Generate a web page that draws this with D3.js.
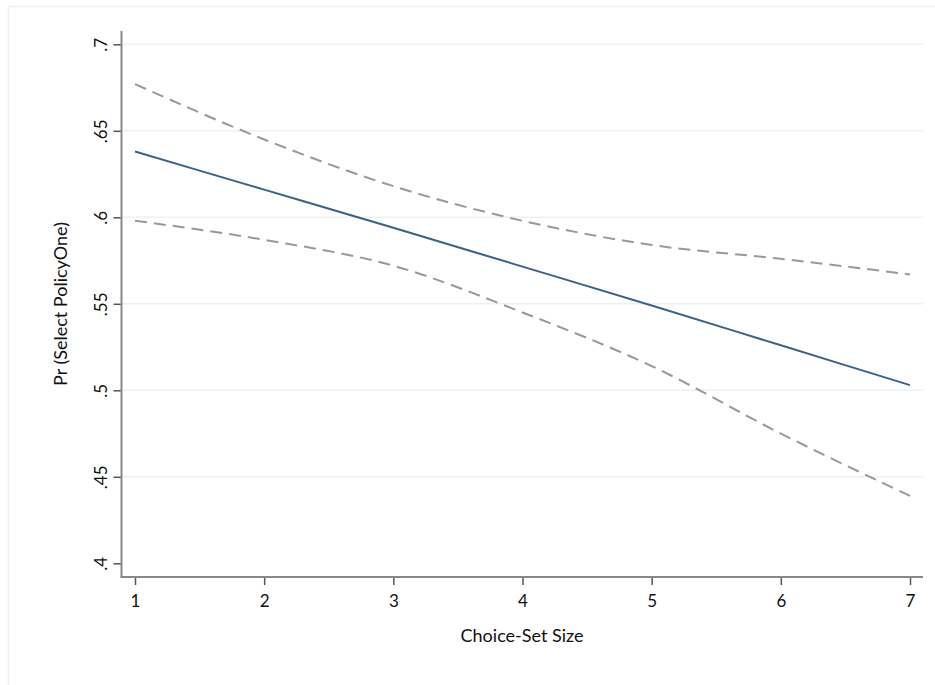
<!DOCTYPE html>
<html>
<head>
<meta charset="utf-8">
<script src="https://cdn.jsdelivr.net/npm/d3@7"></script>
<style>
  body { margin: 0; background: #fff; }
  text { font-family: Lato, "Open Sans", sans-serif; fill: #111; }
</style>
</head>
<body>
<svg></svg>
<script>
// predicted probabilities with 95% CI
const setSize = [1, 2, 3, 4, 5, 6, 7];
const prob    = [0.638, 0.616, 0.594, 0.5715, 0.549, 0.526, 0.503];
const upper   = [0.677, 0.645, 0.618, 0.598, 0.584, 0.576, 0.567];
const lower   = [0.598, 0.587, 0.572, 0.545, 0.514, 0.475, 0.439];
const yTicks  = [0.4, 0.45, 0.5, 0.55, 0.6, 0.65, 0.7];

const svgWidth = 935, svgHeight = 685;

const svg = d3.select('svg')
  .attr("width", svgWidth)
  .attr("height", svgHeight);

// faint outer frame
svg.append("rect")
  .attr("x", 8.5).attr("y", 6.5)
  .attr("width", svgWidth).attr("height", svgHeight)
  .attr("fill", "none")
  .attr("stroke", "#e9f1f3")
  .attr("stroke-width", 1.5);

const x = d3.scaleLinear()
  .domain([1, 7])
  .range([135, 910]);

const y = d3.scaleLinear()
  .domain([0.4, 0.7])
  .range([563.3, 44.3]);

const axisX = 121.5, axisY = 577, gridRight = 923;

// gridlines
svg.append("g")
  .selectAll("line")
  .data(yTicks.filter(d => d > 0.4))
  .join("line")
  .attr("x1", axisX).attr("x2", gridRight)
  .attr("y1", d => y(d)).attr("y2", d => y(d))
  .attr("stroke", "#eaf2f4")
  .attr("stroke-width", 1.5);

const fmt = d => d3.format(".2~f")(d).replace(/^0/, "");

// y axis
const gy = svg.append("g")
  .attr("transform", "translate(" + axisX + ",0)")
  .call(d3.axisLeft(y).tickValues(yTicks).tickFormat(fmt).tickSize(8).tickSizeOuter(0).tickPadding(6));
gy.select(".domain").remove();
gy.selectAll(".tick line").attr("stroke", "#555").attr("stroke-width", 1.5);
gy.selectAll(".tick text")
  .attr("font-size", 17)
  .attr("transform", "translate(-15,0) rotate(-90)")
  .attr("x", 0).attr("dy", "0")
  .attr("text-anchor", "middle");
gy.append("line")
  .attr("x1", 0).attr("x2", 0)
  .attr("y1", 31).attr("y2", axisY)
  .attr("stroke", "#888")
  .attr("stroke-width", 2);

// x axis
const gx = svg.append("g")
  .attr("transform", "translate(0," + axisY + ")")
  .call(d3.axisBottom(x).tickValues(setSize).tickFormat(d3.format("d")).tickSize(8).tickSizeOuter(0).tickPadding(10));
gx.select(".domain").remove();
gx.selectAll(".tick line").attr("stroke", "#555").attr("stroke-width", 1.5);
gx.selectAll(".tick text").attr("font-size", 17);
gx.append("line")
  .attr("x1", axisX - 1).attr("x2", gridRight)
  .attr("y1", 0).attr("y2", 0)
  .attr("stroke", "#888")
  .attr("stroke-width", 2);

// axis titles
svg.append("text")
  .attr("x", 522).attr("y", 642)
  .attr("text-anchor", "middle")
  .attr("font-size", 18)
  .text("Choice-Set Size");

svg.append("text")
  .attr("transform", "translate(67,304) rotate(-90)")
  .attr("text-anchor", "middle")
  .attr("font-size", 18)
  .text("Pr (Select PolicyOne)");

const line = d3.line()
  .x((d, i) => x(setSize[i]))
  .y(d => y(d))
  .curve(d3.curveMonotoneX);

[upper, lower].forEach(s => {
  svg.append("path")
    .datum(s)
    .attr("fill", "none")
    .attr("stroke", "#999")
    .attr("stroke-width", 2)
    .attr("stroke-dasharray", "12,7")
    .attr("d", line);
});

svg.append("path")
  .datum(prob)
  .attr("fill", "none")
  .attr("stroke", "#3b6188")
  .attr("stroke-width", 2)
  .attr("d", line);
</script>
</body>
</html>
